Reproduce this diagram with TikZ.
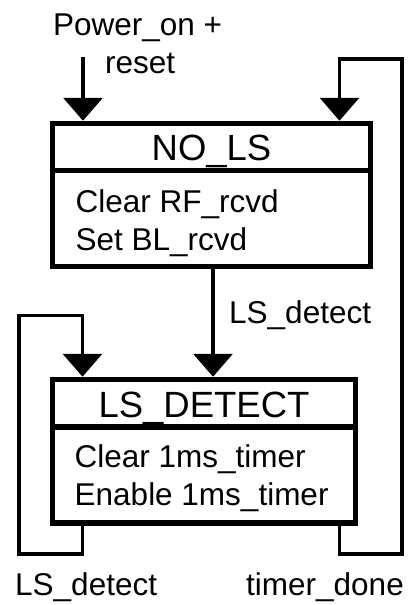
\documentclass[tikz,border=0pt]{standalone}
\usepackage{fontspec}
\setmainfont{Liberation Sans}
\usetikzlibrary{arrows.meta}
\newcommand\bodyfont{\fontsize{31.5}{38}\selectfont}
\newcommand\titlefont{\fontsize{36.5}{44}\selectfont}
\tikzset{
  statebox/.style={draw, line width=5.5pt, inner sep=0pt},
  divider/.style={line width=5.5pt},
  conn/.style={line width=3.6pt, -{Triangle[width=39pt,length=23pt]}},
  label/.style={inner sep=0pt, font=\bodyfont},
  title/.style={inner sep=0pt, font=\titlefont, anchor=base},
}
\begin{document}
\begin{tikzpicture}[x=1pt,y=-1pt]
\useasboundingbox (0,0) rectangle (414,605);

% states
\node[statebox, minimum width=318pt, minimum height=143pt] (nols) at (211.5,195) {};
\node[statebox, minimum width=303pt, minimum height=143.5pt] (lsd) at (204,451.25) {};

% header dividers
\coordinate (d1) at (0,170.5);
\coordinate (d2) at (0,427);
\draw[divider] (nols.west |- d1) -- (nols.east |- d1);
\draw[divider] (lsd.west |- d2) -- (lsd.east |- d2);

% titles and actions
\node[title] (t1) at (nols.center |- 0,160) {NO\_LS};
\node[label, anchor=base west] (a1) at (75.5,212) {Clear RF\_rcvd};
\node[label, anchor=base west] (a2) at (75.5,250) {Set BL\_rcvd};
\node[title] (t2) at (lsd.center |- 0,417) {LS\_DETECT};
\node[label, anchor=base west] (a3) at (74.5,467) {Clear 1ms\_timer};
\node[label, anchor=base west] (a4) at (74.5,505) {Enable 1ms\_timer};

% reset entry
\coordinate (pin) at (83,57);
\node[label, anchor=base west] (l0) at (53,35) {Power\_on +};
\node[label, anchor=base west] (l1) at (105,73) {reset};
\draw[conn] (pin) -- (nols.north -| pin);

% NO_LS -> LS_DETECT
\coordinate (mx) at (213,0);
\draw[conn] (nols.south -| mx) -- (lsd.north -| mx);
\node[label, anchor=base west] (l2) at (229,323) {LS\_detect};

% LS_DETECT self loop
\coordinate (sx) at (82.5,0);
\coordinate (sb) at (19,554);
\coordinate (st) at (82.5,315.5);
\draw[conn] (lsd.south -| sx) |- (sb) |- (st) -- (lsd.north -| sx);
\node[label, anchor=base west] (l3) at (15,595) {LS\_detect};

% LS_DETECT -> NO_LS on timer
\coordinate (tx) at (339.5,0);
\coordinate (tb) at (402,554);
\coordinate (tt) at (339.5,59);
\draw[conn] (lsd.south -| tx) |- (tb) |- (tt) -- (nols.north -| tx);
\node[label, anchor=base west] (l4) at (246,595) {timer\_done};
\end{tikzpicture}
\end{document}
